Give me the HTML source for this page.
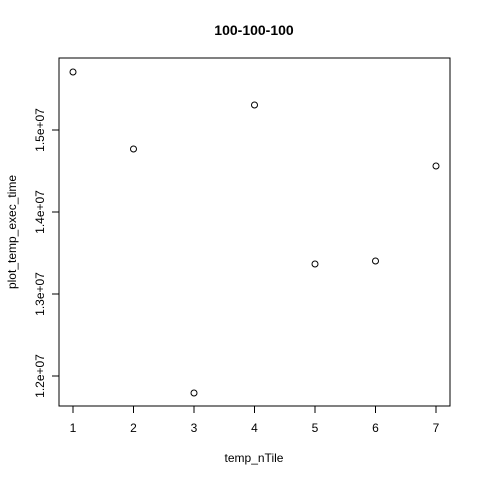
<!DOCTYPE html>
<html><head><meta charset="utf-8"><style>
body{margin:0;background:#fff;}
svg text{font-family:"Liberation Sans",Arial,sans-serif;fill:#000;}
</style></head><body>
<svg id="chart" width="480" height="480" xmlns="http://www.w3.org/2000/svg">
<rect width="480" height="480" fill="#fff"/>
<text x="254" y="35" font-size="14" font-weight="bold" text-anchor="middle">100-100-100</text>
<rect x="59" y="58" width="391" height="348" fill="none" stroke="#000" stroke-width="1"/>
<text x="254" y="462" font-size="12" text-anchor="middle">temp_nTile</text>
<text transform="translate(16,232) rotate(-90)" font-size="12" text-anchor="middle">plot_temp_exec_time</text>
<g id="xaxis"></g>
<g id="yaxis"></g>
<g id="points"></g>
</svg>
<script>
const xCategories=[1,2,3,4,5,6,7];
const yValues=[15707000,14768000,11793000,15305000,13366000,13402000,14561000];
const xTicks=[1,2,3,4,5,6,7];
const yTicks=[12000000,13000000,14000000,15000000];
const yTickLabels=["1.2e+07","1.3e+07","1.4e+07","1.5e+07"];
const NS="http://www.w3.org/2000/svg";
function sx(v){return 73+(v-1)*60.5;}
function sy(v){return 130-(v-15000000)/1000000*82;}
function mk(tag,attrs,parent){const e=document.createElementNS(NS,tag);for(const k in attrs)e.setAttribute(k,attrs[k]);parent.appendChild(e);return e;}
const xa=document.getElementById('xaxis'),ya=document.getElementById('yaxis'),pts=document.getElementById('points');
let l=mk('line',{x1:sx(xTicks[0]),x2:sx(xTicks[xTicks.length-1]),y1:406,y2:406,stroke:'#000'},xa);


xTicks.forEach(t=>{
 const tk=mk('line',{x1:sx(t),x2:sx(t),y1:406,y2:413,stroke:'#000'},xa);
 
 
 const tx=mk('text',{x:sx(t),y:432,'font-size':12,'text-anchor':'middle'},xa);tx.textContent=t;
 
 
});
l=mk('line',{x1:59,x2:59,y1:sy(yTicks[0]),y2:sy(yTicks[yTicks.length-1]),stroke:'#000'},ya);


yTicks.forEach((t,i)=>{
 const tk=mk('line',{x1:52,x2:59,y1:sy(t),y2:sy(t),stroke:'#000'},ya);
 
 
 const tx=mk('text',{transform:`translate(44,${sy(t)}) rotate(-90)`,'font-size':12,'text-anchor':'middle'},ya);tx.textContent=yTickLabels[i];
 
 
});
xCategories.forEach((c,i)=>{
 const p=mk('circle',{cx:sx(c),cy:sy(yValues[i]),r:3,fill:'none',stroke:'#000'},pts);
 
 
});
</script>
</body></html>
